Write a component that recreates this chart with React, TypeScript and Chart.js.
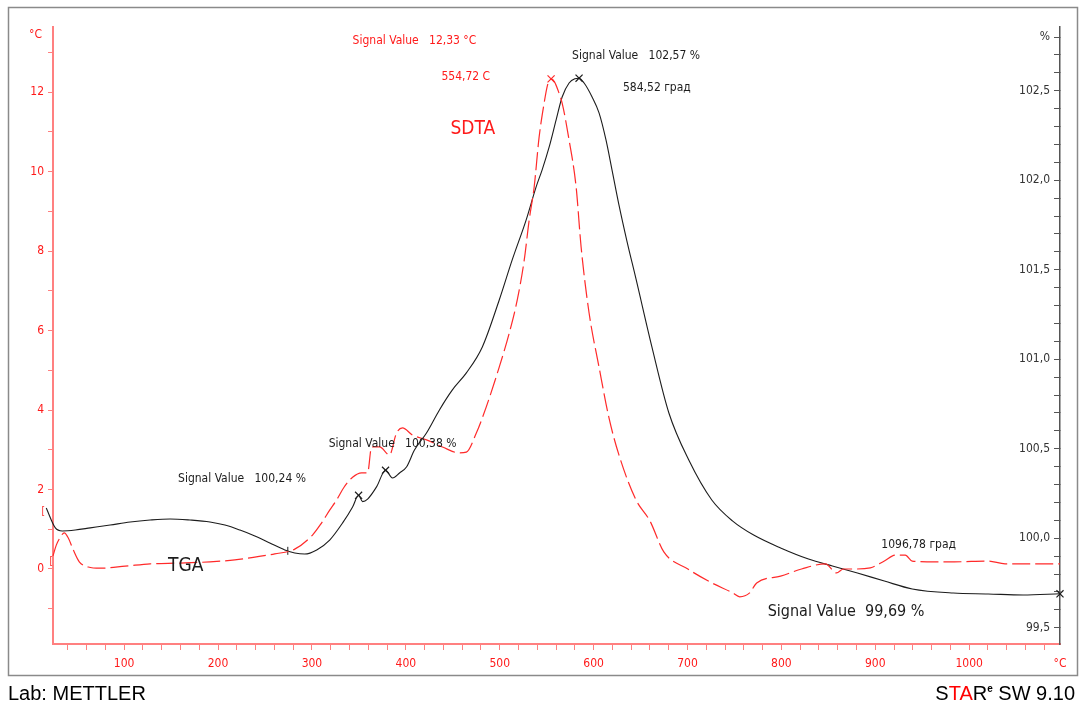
import React, { useEffect, useRef } from 'react';
import { Chart, registerables } from 'chart.js';

Chart.register(...registerables);

// ---------- DATA ----------
// SDTA (°C, left axis) – red dashed
const sdtaTemp = [24.2, 27.7, 32.0, 36.2, 40.5, 45.8, 52.2, 61.7, 74.5, 101.1, 127.6, 159.5, 191.4, 217.9, 239.2, 260.4, 281.7, 300.8, 310.0, 318.9, 326.3, 334.0, 343.3, 352.9, 359.3, 363.5, 372.0, 382.6, 390.1, 396.5, 407.1, 422.0, 439.0, 457.0, 464.5, 475.1, 485.7, 499.5, 510.2, 518.7, 526.1, 531.4, 536.7, 542.0, 547.3, 551.0, 554.72, 558.5, 562.0, 566.5, 573.9, 581.4, 586.7, 595.2, 605.8, 616.4, 627.0, 645.1, 660.0, 674.8, 700.4, 725.9, 748.2, 755.6, 766.2, 773.7, 799.2, 821.5, 847.0, 858.7, 866.1, 876.8, 894.8, 909.7, 921.4, 932.0, 939.4, 964.9, 984.1, 1020.2, 1038.3, 1057.4, 1075.5, 1096.78];
const sdtaValue = [0.33, 0.60, 0.80, 0.91, 0.78, 0.48, 0.18, 0.05, 0.02, 0.07, 0.13, 0.15, 0.18, 0.23, 0.30, 0.38, 0.50, 0.86, 1.15, 1.48, 1.74, 2.05, 2.31, 2.42, 2.42, 3.07, 3.07, 2.87, 3.42, 3.55, 3.37, 3.25, 3.07, 2.92, 2.94, 3.42, 4.08, 5.08, 5.94, 6.77, 7.77, 8.78, 9.61, 10.87, 11.72, 12.18, 12.33, 12.25, 12.05, 11.72, 10.79, 9.61, 8.10, 6.44, 5.08, 3.80, 2.87, 1.74, 1.21, 0.43, 0.0, -0.35, -0.60, -0.70, -0.60, -0.35, -0.18, 0.0, 0.13, -0.10, 0.0, 0.0, 0.03, 0.20, 0.35, 0.35, 0.20, 0.18, 0.18, 0.20, 0.13, 0.13, 0.13, 0.13];

// TGA (%, right axis) – black solid
const tgaTemp = [17.0, 26.7, 34.1, 47.9, 63.9, 85.1, 106.4, 127.6, 148.9, 170.1, 191.4, 207.3, 223.3, 239.2, 255.1, 271.1, 281.7, 292.3, 305.1, 318.9, 332.7, 343.3, 349.7, 354.0, 359.3, 368.8, 378.4, 385.8, 393.3, 400.7, 409.2, 422.0, 435.8, 449.6, 464.5, 481.5, 499.5, 513.3, 528.2, 538.8, 545.2, 552.7, 560.1, 566.5, 573.9, 580.0, 584.52, 589.9, 598.4, 605.8, 613.2, 619.6, 627.0, 635.5, 645.1, 662.1, 680.2, 701.4, 725.9, 748.2, 770.5, 799.2, 828.9, 854.4, 881.0, 909.7, 939.4, 983.0, 1020.2, 1057.4, 1096.78];
const tgaValue = [100.169, 100.058, 100.041, 100.046, 100.058, 100.074, 100.091, 100.102, 100.108, 100.102, 100.091, 100.074, 100.046, 100.013, 99.974, 99.935, 99.918, 99.912, 99.935, 99.990, 100.086, 100.175, 100.24, 100.205, 100.219, 100.287, 100.38, 100.337, 100.365, 100.398, 100.493, 100.588, 100.717, 100.829, 100.924, 101.069, 101.331, 101.555, 101.779, 101.963, 102.058, 102.186, 102.337, 102.465, 102.543, 102.567, 102.57, 102.543, 102.465, 102.376, 102.225, 102.058, 101.862, 101.66, 101.45, 101.069, 100.700, 100.437, 100.214, 100.096, 100.018, 99.946, 99.884, 99.845, 99.806, 99.761, 99.717, 99.694, 99.689, 99.683, 99.69];

// Evaluation markers
const sdtaMarkTemp = [554.72];
const sdtaMarkValue = [12.33];
const tgaMarkTemp = [349.7, 378.4, 584.52, 1096.78];
const tgaMarkValue = [100.24, 100.38, 102.57, 99.69];
const tgaTickTemp = [274.3];
const tgaTickValue = [99.93];
// integration-limit brackets at the start of the SDTA curve
const bracketTemp = [13.9, 22.4];
const bracketValue = [1.46, 0.2];

// Axis ranges / steps
const xMin = 24.2;
const xMax = 1096.78;
const xStep = 20;
const xLabelEvery = 100;
const yLeftMin = -1.887;
const yLeftMax = 13.636;
const yLeftStep = 1;
const yLeftLabelEvery = 2;
const yRightMin = 99.4095;
const yRightMax = 102.856;
const yRightStep = 0.1;
const yRightUnitTick = 102.8;

// ---------- STYLE ----------
const RED = '#ff2a2a';
const RED_TEXT = '#ff1a1a';
const AXIS_RED = '#ff8080';
const BLACK = '#1c1c1c';
const FONT = "'DejaVu Sans Condensed', 'DejaVu Sans', Tahoma, sans-serif";

Chart.defaults.font.family = FONT;

type Note = { text: string; t: number; v: number; color: string; size: number };
const notes: Note[] = [
  { text: 'Signal Value   12,33 °C', t: 343.3, v: 13.28, color: RED_TEXT, size: 12 },
  { text: 'Signal Value   102,57 %', t: 577.1, v: 12.905, color: BLACK, size: 12 },
  { text: '554,72 C', t: 437.9, v: 12.377, color: RED_TEXT, size: 12 },
  { text: '584,52 град', t: 631.3, v: 12.1, color: BLACK, size: 12 },
  { text: 'SDTA', t: 447.5, v: 11.07, color: RED_TEXT, size: 19 },
  { text: 'Signal Value   100,38 %', t: 317.8, v: 3.145, color: BLACK, size: 12 },
  { text: 'Signal Value   100,24 %', t: 157.4, v: 2.264, color: BLACK, size: 12 },
  { text: 'TGA', t: 146.8, v: 0.075, color: BLACK, size: 19 },
  { text: '1096,78 град', t: 906.5, v: 0.604, color: BLACK, size: 12 },
  { text: 'Signal Value  99,69 %', t: 785.4, v: -1.082, color: BLACK, size: 16 },
];

const pts = (xs: number[], ys: number[]) => xs.map((x, i) => ({ x, y: ys[i] }));

// keep the exact axis range after Chart.js has built its "nice" ticks
const keepRange = (lo: number, hi: number, extraMax = false) => (scale: any) => {
  scale.min = lo;
  scale.max = hi;
  scale.ticks = scale.ticks.filter((t: any) => t.value >= lo && t.value <= hi);
  if (extraMax) scale.ticks.push({ value: hi });
};

const decorPlugin = {
  id: 'decor',
  beforeDraw(chart: any) {
    const ctx = chart.ctx;
    ctx.save();
    ctx.fillStyle = '#ffffff';
    ctx.fillRect(0, 0, chart.width, chart.height);
    ctx.strokeStyle = '#8a8a8a';
    ctx.lineWidth = 1.5;
    ctx.strokeRect(8.5, 7.5, 1069, 668);
    ctx.restore();
  },
  afterDraw(chart: any) {
    const ctx = chart.ctx;
    const xs = chart.scales.x;
    const yl = chart.scales.yL;
    ctx.save();
    ctx.textBaseline = 'middle';
    ctx.textAlign = 'left';
    for (const n of notes) {
      ctx.font = `${n.size}px ${FONT}`;
      ctx.fillStyle = n.color;
      ctx.fillText(n.text, xs.getPixelForValue(n.t), yl.getPixelForValue(n.v));
    }
    // small integration brackets
    ctx.font = `10px ${FONT}`;
    ctx.fillStyle = RED;
    ctx.textAlign = 'center';
    bracketTemp.forEach((t, i) => ctx.fillText('[', xs.getPixelForValue(t), yl.getPixelForValue(bracketValue[i])));
    ctx.textAlign = 'left';

    // left axis unit
    ctx.font = `12px ${FONT}`;
    ctx.fillStyle = RED_TEXT;
    ctx.fillText('°C', chart.chartArea.left - 24, 35);

    // footer
    ctx.textBaseline = 'alphabetic';
    ctx.font = `20px 'Liberation Sans', Arial, sans-serif`;
    ctx.fillStyle = '#000';
    ctx.fillText('Lab: METTLER', 8, 700);

    const parts: { s: string; c: string; f: string; dy: number }[] = [
      { s: 'S', c: '#000', f: `20px 'Liberation Sans', Arial, sans-serif`, dy: 0 },
      { s: 'TA', c: '#ff0000', f: `20px 'Liberation Sans', Arial, sans-serif`, dy: 0 },
      { s: 'R', c: '#000', f: `20px 'Liberation Sans', Arial, sans-serif`, dy: 0 },
      { s: 'e', c: '#000', f: `bold 10px 'Liberation Sans', Arial, sans-serif`, dy: -8 },
      { s: ' SW 9.10', c: '#000', f: `20px 'Liberation Sans', Arial, sans-serif`, dy: 0 },
    ];
    let total = 0;
    for (const p of parts) { ctx.font = p.f; total += ctx.measureText(p.s).width; }
    let x = 1075 - total;
    for (const p of parts) {
      ctx.font = p.f;
      ctx.fillStyle = p.c;
      ctx.fillText(p.s, x, 700 + p.dy);
      x += ctx.measureText(p.s).width;
    }
    ctx.restore();
  },
};

export default function App() {
  const ref = useRef<HTMLCanvasElement>(null);
  useEffect(() => {
    if (!ref.current) return;
    const chart = new Chart(ref.current, {
      type: 'line',
      data: {
        datasets: [
          {
            label: 'SDTA',
            data: pts(sdtaTemp, sdtaValue),
            yAxisID: 'yL',
            borderColor: RED,
            borderWidth: 1.2,
            borderDash: [18, 5],
            pointRadius: 0,
            cubicInterpolationMode: 'monotone',
            clip: false as any,
          },
          {
            label: 'TGA',
            data: pts(tgaTemp, tgaValue),
            yAxisID: 'yR',
            borderColor: BLACK,
            borderWidth: 1.1,
            pointRadius: 0,
            cubicInterpolationMode: 'monotone',
            clip: false as any,
          },
          {
            type: 'scatter' as any,
            label: 'SDTA peak',
            data: pts(sdtaMarkTemp, sdtaMarkValue),
            yAxisID: 'yL',
            pointStyle: 'crossRot',
            pointRadius: 5,
            borderColor: RED,
            borderWidth: 1.2,
            clip: false as any,
          },
          {
            type: 'scatter' as any,
            label: 'TGA marks',
            data: pts(tgaMarkTemp, tgaMarkValue),
            yAxisID: 'yR',
            pointStyle: 'crossRot',
            pointRadius: 5,
            borderColor: BLACK,
            borderWidth: 1.2,
            clip: false as any,
          },
          {
            type: 'scatter' as any,
            label: 'TGA tick',
            data: pts(tgaTickTemp, tgaTickValue),
            yAxisID: 'yR',
            pointStyle: 'line',
            rotation: 90,
            pointRadius: 4,
            borderColor: BLACK,
            borderWidth: 1,
            clip: false as any,
          },
        ] as any,
      },
      options: {
        responsive: false,
        maintainAspectRatio: false,
        animation: false,
        events: [],
        layout: { padding: { top: 27, left: 0, right: 0, bottom: 0 } },
        plugins: { legend: { display: false }, tooltip: { enabled: false } },
        scales: {
          x: {
            type: 'linear',
            position: 'bottom',
            min: xMin,
            max: xMax,
            afterBuildTicks: keepRange(xMin, xMax, true),
            afterFit: (scale: any) => { scale.height = 63; },
            ticks: {
              stepSize: xStep,
              includeBounds: false,
              autoSkip: false,
              maxRotation: 0,
              minRotation: 0,
              padding: 7,
              color: RED_TEXT,
              font: { size: 12 },
              callback: (v: any) => (v === xMax ? '°C' : Math.round(v) % xLabelEvery === 0 ? String(Math.round(v)) : ''),
            },
            grid: {
              drawOnChartArea: false,
              drawTicks: true,
              tickLength: 6,
              tickColor: (c: any) => (c.tick && c.tick.value === xMax ? 'rgba(0,0,0,0)' : AXIS_RED),
              color: AXIS_RED,
            },
            border: { color: AXIS_RED, width: 2 },
          },
          yL: {
            type: 'linear',
            position: 'left',
            min: yLeftMin,
            max: yLeftMax,
            afterBuildTicks: keepRange(yLeftMin, yLeftMax),
            afterFit: (scale: any) => { scale.width = 53; },
            ticks: {
              stepSize: yLeftStep,
              includeBounds: false,
              autoSkip: false,
              padding: 4,
              color: RED_TEXT,
              font: { size: 12 },
              callback: (v: any) => (Math.round(v) % yLeftLabelEvery === 0 ? String(Math.round(v)) : ''),
            },
            grid: { drawOnChartArea: false, drawTicks: true, tickLength: 5, color: AXIS_RED },
            border: { color: AXIS_RED, width: 2 },
          },
          yR: {
            type: 'linear',
            position: 'right',
            min: yRightMin,
            max: yRightMax,
            afterBuildTicks: keepRange(yRightMin, yRightMax),
            afterFit: (scale: any) => { scale.width = 23; },
            ticks: {
              stepSize: yRightStep,
              includeBounds: false,
              autoSkip: false,
              mirror: true,
              padding: -10,
              color: '#333333',
              font: { size: 12 },
              callback: (v: any) => {
                const r = Math.round(v * 10);
                if (r === Math.round(yRightUnitTick * 10)) return '%';
                if (r % 5 === 0) return (r / 10).toFixed(1).replace('.', ',');
                return '';
              },
            },
            grid: { drawOnChartArea: false, drawTicks: true, tickLength: -6, color: '#555555' },
            border: { color: '#555555', width: 1.5 },
          },
        },
      } as any,
      plugins: [decorPlugin],
    });
    return () => chart.destroy();
  }, []);
  return (
    <div style={{ position: 'fixed', left: 0, top: 0, width: 1083, height: 707, background: '#fff' }}>
      <canvas ref={ref} width={1083} height={707} style={{ width: 1083, height: 707, display: 'block' }} />
    </div>
  );
}
